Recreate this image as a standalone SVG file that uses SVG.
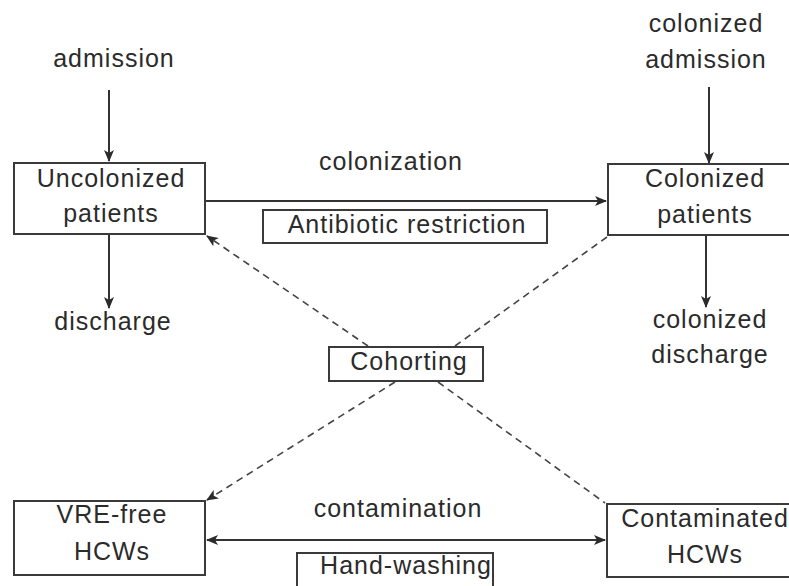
<svg xmlns="http://www.w3.org/2000/svg" width="789" height="586" viewBox="0 0 789 586">
<defs>
<style>
text{font-family:"Liberation Sans",Arial,sans-serif;font-size:25px;fill:#2b2b2b;text-anchor:middle;letter-spacing:1px}
.box{fill:#fff;stroke:#3a3a3a;stroke-width:2}
.ln{stroke:#333;stroke-width:2;fill:none}
.dash{stroke:#444;stroke-width:1.6;fill:none;stroke-dasharray:7 5}
</style>
<marker id="ah" viewBox="0 0 12 10" refX="11" refY="5" markerWidth="12" markerHeight="10" markerUnits="userSpaceOnUse" orient="auto-start-reverse">
<path d="M0,0 L12,5 L0,10 L3,5 Z" fill="#2b2b2b"/>
</marker>
</defs>
<rect width="789" height="586" fill="#fff"/>
<g id="connectors">
<line class="ln" x1="109" y1="90" x2="109" y2="161" marker-end="url(#ah)"/>
<line class="ln" x1="709" y1="87" x2="709" y2="163" marker-end="url(#ah)"/>
<line class="ln" x1="109" y1="235" x2="109" y2="308" marker-end="url(#ah)"/>
<line class="ln" x1="706" y1="236" x2="706" y2="307" marker-end="url(#ah)"/>
<line class="ln" x1="206" y1="201" x2="606" y2="201" marker-end="url(#ah)"/>
<line class="ln" x1="207" y1="540" x2="605" y2="540" marker-start="url(#ah)" marker-end="url(#ah)"/>
<line class="dash" x1="368" y1="346" x2="207" y2="236" marker-end="url(#ah)"/>
<line class="dash" x1="455" y1="346" x2="607" y2="237"/>
<line class="dash" x1="395" y1="382" x2="207" y2="500" marker-end="url(#ah)"/>
<line class="dash" x1="438" y1="382" x2="605" y2="503"/>
<text x="391" y="170">colonization</text>
<text x="398" y="517">contamination</text>
</g>
<g id="admission"><text x="114" y="67">admission</text></g>
<g id="colonized-admission"><text x="706" y="32">colonized</text><text x="706" y="68">admission</text></g>
<g id="discharge"><text x="113" y="330">discharge</text></g>
<g id="colonized-discharge"><text x="710" y="328">colonized</text><text x="710" y="363">discharge</text></g>
<g id="uncolonized"><rect class="box" x="14" y="163" width="191" height="71"/><text x="111" y="187">Uncolonized</text><text x="111" y="222">patients</text></g>
<g id="colonized"><rect class="box" x="608" y="164" width="190" height="71"/><text x="705" y="187">Colonized</text><text x="705" y="223">patients</text></g>
<g id="antibiotic"><rect class="box" x="263" y="210" width="284" height="33"/><text x="407" y="233">Antibiotic restriction</text></g>
<g id="cohorting"><rect class="box" x="329" y="347" width="154" height="34"/><text x="409" y="370">Cohorting</text></g>
<g id="vre-free"><rect class="box" x="14" y="501" width="191" height="74"/><text x="112" y="523">VRE-free</text><text x="112" y="560">HCWs</text></g>
<g id="contaminated"><rect class="box" x="607" y="504" width="190" height="73"/><text x="705" y="527">Contaminated</text><text x="705" y="563">HCWs</text></g>
<g id="handwashing"><rect class="box" x="297" y="553" width="196" height="40"/><text x="406" y="574">Hand-washing</text></g>
</svg>
